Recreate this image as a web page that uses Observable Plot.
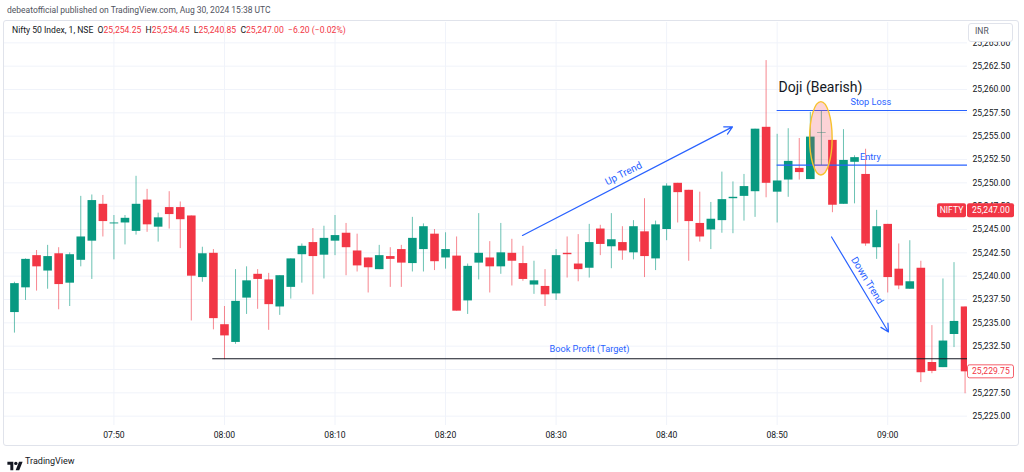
<!DOCTYPE html>
<html>
<head>
<meta charset="utf-8">
<script src="https://cdn.jsdelivr.net/npm/d3@7"></script>
<script src="https://cdn.jsdelivr.net/npm/@observablehq/plot@0.6"></script>
<style>
  html, body { margin: 0; padding: 0; background: #fff; }
  #wrap { position: relative; width: 1024px; height: 472px; overflow: hidden; font-family: Roboto, "Liberation Sans", sans-serif; color: #131722; }
  #frame { position: absolute; left: 3px; top: 20px; width: 1016px; height: 426px; border: 1px solid #e0e3eb; border-radius: 3px; box-sizing: border-box; }
  #chart { position: absolute; left: 0; top: 0; }
  .abs { position: absolute; white-space: nowrap; }
  .red { color: #f23645; }
</style>
</head>
<body>
<div id="wrap">
  <div id="frame"></div>
  <div id="chart"></div>
  <div class="abs" style="left:7px;top:5px;font-size:8.5px;color:#50535e;">debeatofficial published on TradingView.com, Aug 30, 2024 15:38 UTC</div>
  <div class="abs" style="left:12px;top:25px;font-size:8.6px;color:#131722;">Nifty 50 Index, 1, NSE&nbsp;&nbsp;O<span class="red">25,254.25</span>&nbsp;&nbsp;H<span class="red">25,254.45</span>&nbsp;&nbsp;L<span class="red">25,240.85</span>&nbsp;&nbsp;C<span class="red">25,247.00</span>&nbsp;&nbsp;<span class="red">−6.20 (−0.02%)</span></div>
  <div class="abs" style="left:968px;top:23px;width:45px;height:19px;border:1px solid #e0e3eb;border-radius:3px;background:#fff;box-sizing:border-box;"></div>
  <div class="abs" style="left:975px;top:26px;font-size:8.5px;color:#50535e;">INR</div>
  <div class="abs" style="left:7px;top:456px;">
    <svg width="16" height="11" viewBox="0 0 36 26"><path d="M14 24H7V11H0V4h14v20zM28 24h-8.5l8-20h8.5L28 24z" fill="#131722"/><circle cx="20" cy="8" r="4" fill="#131722"/></svg>
  </div>
  <div class="abs" style="left:25px;top:456px;font-size:9px;color:#131722;">TradingView</div>
</div>
<script>
// ---- data (1-minute bars, Nifty 50 Index, NSE) ----
const startTime = "07:41";
const opens  = [25236.1,25238.75,25242.2,25240.55,25242.4,25239.25,25241.7,25243.75,25247.7,25245.6,
                25245.7,25244.8,25248.15,25245.25,25247.35,25247.35,25246.45,25239.85,25242.45,25234.8,
                25232.9,25237.65,25240.2,25239.6,25236.7,25238.8,25242.3,25243.6,25242.25,25243.75,
                25244.6,25242.7,25241.95,25240.7,25242.1,25242.85,25241.35,25242.85,25244.5,25241.95,
                25242.15,25237.35,25241.4,25241.95,25241.0,25242.45,25241.35,25239.05,25238.9,25238.1,
                25242.45,25241.3,25240.85,25245.05,25243.15,25243.6,25242.5,25244.75,25241.85,25245.0,
                25249.95,25249.2,25245.65,25244.95,25245.95,25248.3,25248.55,25249.05,25255.95,25249.0,
                25250.3,25251.55,25250.35,25255.3,25254.55,25247.7,25252.2,25250.9,25243.05,25245.55,
                25240.75,25238.6,25240.85,25230.75,25230.2,25233.75,25236.7];
const highs  = [25239.35,25241.85,25242.75,25243.3,25243.05,25242.5,25248.55,25248.7,25248.65,25246.5,
                25246.5,25250.7,25249.3,25246.75,25249.05,25247.95,25246.45,25243.1,25242.85,25236.75,
                25240.7,25241.0,25240.7,25240.3,25240.05,25241.85,25243.45,25245.1,25245.35,25246.5,
                25245.65,25244.5,25241.95,25243.3,25243.05,25243.3,25246.3,25245.6,25245.0,25244.65,
                25244.2,25241.3,25246.7,25243.7,25245.65,25243.95,25243.2,25241.6,25240.7,25242.85,
                25244.2,25244.45,25245.55,25245.45,25246.7,25245.3,25245.95,25248.3,25245.9,25249.9,
                25249.95,25249.2,25249.0,25247.9,25251.15,25250.1,25250.9,25255.75,25263.1,25255.2,
                25255.8,25254.75,25257.55,25257.65,25254.55,25255.7,25252.9,25253.6,25247.05,25245.55,
                25243.45,25243.8,25241.6,25234.7,25239.7,25241.45,25236.7];
const lows   = [25233.9,25237.4,25238.4,25238.6,25236.4,25236.75,25241.0,25239.65,25244.2,25241.75,
                25243.35,25244.4,25244.7,25243.65,25245.05,25242.95,25235.2,25239.35,25234.25,25231.05,
                25232.7,25235.9,25236.45,25234.2,25235.8,25237.55,25239.25,25238.0,25239.7,25242.2,
                25240.05,25240.45,25238.2,25240.7,25238.8,25238.8,25240.45,25240.45,25240.6,25240.75,
                25236.25,25235.9,25239.6,25238.2,25240.2,25238.95,25239.45,25238.05,25236.75,25237.4,
                25239.8,25239.4,25239.8,25242.2,25240.8,25241.7,25241.75,25239.85,25240.6,25243.8,
                25245.7,25241.6,25243.65,25242.85,25244.6,25244.55,25245.9,25246.3,25248.4,25245.7,
                25248.45,25250.3,25250.35,25251.85,25246.8,25247.7,25247.75,25243.2,25241.8,25238.2,
                25238.55,25238.6,25228.6,25229.55,25230.2,25232.35,25227.4];
const closes = [25239.2,25241.8,25241.0,25242.1,25239.1,25242.3,25244.2,25248.1,25245.85,25245.7,
                25246.2,25247.7,25245.5,25246.25,25246.6,25246.05,25240.0,25242.4,25235.45,25233.6,
                25237.3,25239.5,25239.65,25236.95,25240.05,25241.85,25243.2,25242.1,25244.05,25244.35,
                25243.05,25241.1,25240.9,25242.2,25241.8,25241.4,25244.05,25245.3,25241.55,25242.85,
                25236.25,25241.05,25242.45,25241.0,25242.5,25241.6,25239.65,25239.5,25238.0,25242.2,
                25242.3,25240.7,25243.6,25243.4,25243.9,25242.7,25245.3,25242.1,25245.5,25249.65,
                25248.95,25245.85,25244.2,25246.1,25248.2,25248.45,25249.6,25255.75,25249.95,25250.2,
                25252.3,25251.1,25254.9,25255.35,25247.6,25252.4,25252.7,25243.45,25245.3,25239.85,
                25238.95,25239.4,25229.65,25229.8,25233.05,25235.15,25229.75];

// axis ticks
const timeTicks  = ["07:50","08:00","08:10","08:20","08:30","08:40","08:50","09:00"];
const boldTicks  = ["08:00","09:00"];
const priceTicks = [25225,25227.5,25230,25232.5,25235,25237.5,25240,25242.5,25245,25247.5,25250,25252.5,25255,25257.5,25260,25262.5,25265];

// last-price tags
const lastPrice  = 25247.00;
const closeTag   = 25229.75;

// annotations (time as "HH:MM", price)
const levelNames  = ["Stop Loss","Entry","Book Profit (Target)"];
const levelPrices = [25257.75, 25251.9, 25231.15];
const levelStarts = ["08:50","08:50","07:58.94"];
const levelLabelTimes  = ["08:58.47","08:58.43","08:33.02"];
const levelLabelPrices = [25258.64, 25252.75, 25232.15];
const levelColors = ["#2962ff","#2962ff","#131722"];

const trendNames  = ["Up Trend","Down Trend"];
const trendFrom   = [["08:26.96",25244.36],["08:54.92",25244.2]];
const trendTo     = [["08:45.96",25256.0],["09:00.07",25234.02]];
const trendLabelAt= [["08:36.10",25251.0],["08:58.15",25239.54]];
const trendAngles = [-27, 59];

const dojiLabel   = "Doji (Bearish)";
const dojiLabelAt = ["08:50.12", 25260.19];
const dojiCenter  = ["08:54", 25254.72];
const dojiHalfW   = 1.02;   // minutes
const dojiHalfH   = 3.93;   // index points

// ---- helpers ----
function toMin(s) { const [h, m] = s.split(":"); return (+h - 7) * 60 + (+m); }

const t0 = toMin(startTime);
const bars = opens.map((o, i) => ({t: t0 + i, o, h: highs[i], l: lows[i], c: closes[i], up: closes[i] >= o}));
const upBars = bars.filter(d => d.up), downBars = bars.filter(d => !d.up);
const UP = "#089981", DOWN = "#f23645", BLUE = "#2962ff";

const levels = levelNames.map((n, i) => ({n, p: levelPrices[i], t1: toMin(levelStarts[i]), lt: toMin(levelLabelTimes[i]), lp: levelLabelPrices[i], color: levelColors[i]}));
const trends = trendNames.map((n, i) => ({n, x1: toMin(trendFrom[i][0]), y1: trendFrom[i][1], x2: toMin(trendTo[i][0]), y2: trendTo[i][1], lx: toMin(trendLabelAt[i][0]), ly: trendLabelAt[i][1], a: trendAngles[i]}));

const xDomain = [40.10, 127.22];
const font = "Roboto, 'Liberation Sans', sans-serif";

// custom marks drawn through the scales
const ellipseMark = (index, scales) => {
  const cx = scales.x(toMin(dojiCenter[0])), cy = scales.y(dojiCenter[1]);
  const rx = Math.abs(scales.x(toMin(dojiCenter[0]) + dojiHalfW) - cx);
  const ry = Math.abs(scales.y(dojiCenter[1] + dojiHalfH) - cy);
  const g = d3.create("svg:g");
  g.append("ellipse").attr("cx", cx).attr("cy", cy).attr("rx", rx).attr("ry", ry)
    .attr("fill", "rgba(242,54,69,0.22)").attr("stroke", "#f7c22e").attr("stroke-width", 1.4);
  return g.node();
};

const tagMark = (index, scales, values, dims) => {
  const xr = dims.width - dims.marginRight;
  const g = d3.create("svg:g").attr("font-family", font).attr("font-size", 8.6);
  const yN = scales.y(lastPrice);
  g.append("rect").attr("x", xr - 30).attr("y", yN - 7).attr("width", 29).attr("height", 14).attr("rx", 2).attr("fill", DOWN);
  g.append("text").attr("x", xr - 15.5).attr("y", yN).attr("dy", "0.34em").attr("text-anchor", "middle").attr("fill", "#fff").text("NIFTY");
  g.append("rect").attr("x", xr).attr("y", yN - 7).attr("width", 47).attr("height", 14).attr("rx", 2).attr("fill", DOWN);
  g.append("text").attr("x", xr + 5).attr("y", yN).attr("dy", "0.34em").attr("text-anchor", "start").attr("fill", "#fff").text(d3.format(",.2f")(lastPrice));
  const yC = scales.y(closeTag);
  g.append("rect").attr("x", xr + 0.5).attr("y", yC - 6.5).attr("width", 46).attr("height", 13).attr("rx", 2).attr("fill", "#fff").attr("stroke", DOWN).attr("stroke-width", 0.8);
  g.append("text").attr("x", xr + 5).attr("y", yC).attr("dy", "0.34em").attr("text-anchor", "start").attr("fill", DOWN).text(d3.format(",.2f")(closeTag));
  return g.node();
};

const chart = Plot.plot({
  width: 1024,
  height: 472,
  marginTop: 22,
  marginBottom: 47,
  marginLeft: 4,
  marginRight: 57,
  x: {type: "linear", domain: xDomain, axis: null},
  y: {type: "linear", domain: [25224.0, 25267.18], axis: null},
  style: {background: "transparent", fontFamily: font},
  marks: [
    // grid
    Plot.ruleY(priceTicks, {stroke: "#f0f3fa", strokeWidth: 1}),
    Plot.ruleX(timeTicks.map(toMin), {stroke: "#f0f3fa", strokeWidth: 1}),
    // wicks
    Plot.ruleX(upBars,   {x: "t", y1: "l", y2: "h", stroke: UP,   strokeOpacity: 0.6, clip: true}),
    Plot.ruleX(downBars, {x: "t", y1: "l", y2: "h", stroke: DOWN, strokeOpacity: 0.6, clip: true}),
    // bodies
    Plot.ruleX(upBars,   {x: "t", y1: "o", y2: "c", stroke: UP,   strokeWidth: 8.6, clip: true}),
    Plot.ruleX(downBars, {x: "t", y1: "o", y2: "c", stroke: DOWN, strokeWidth: 8.6, clip: true}),
    // level lines
    Plot.ruleY(levels, {y: "p", x1: "t1", x2: xDomain[1], stroke: "color", strokeWidth: 1.2, clip: true}),
    Plot.text(levels, {x: "lt", y: "lp", text: "n", fill: BLUE, fontSize: 9.2}),
    // doji highlight
    ellipseMark,
    Plot.text([dojiLabel], {x: toMin(dojiLabelAt[0]), y: dojiLabelAt[1], text: d => d, textAnchor: "start", fill: "#131722", fontSize: 14}),
    // trends
    Plot.arrow(trends, {x1: "x1", y1: "y1", x2: "x2", y2: "y2", stroke: BLUE, strokeWidth: 1.2, headLength: 11, headAngle: 55}),
    Plot.text(trends, {x: "lx", y: "ly", text: "n", rotate: "a", fill: BLUE, fontSize: 10}),
    // price axis labels
    Plot.text(priceTicks, {y: d => d, frameAnchor: "right", textAnchor: "start", dx: 5, text: d => d3.format(",.2f")(d), fill: "#131722", fontSize: 8.6}),
    // time axis labels
    Plot.text(timeTicks, {x: d => toMin(d), frameAnchor: "bottom", dy: 12, text: d => d, fill: "#131722", fontSize: 8.6,
      fontWeight: d => boldTicks.includes(d) ? "bold" : "normal"}),
    tagMark
  ]
});
document.getElementById("chart").appendChild(chart);
</script>
</body>
</html>
